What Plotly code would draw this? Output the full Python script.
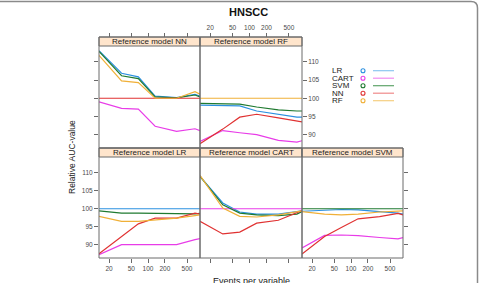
import math
import plotly.graph_objects as go

W, H = 480, 283

# ---------------- data ----------------
epv = [13.2, 33.5, 67, 134, 325, 695, 855]
x_ticks = [20, 50, 100, 200, 500]
y_ticks = [90, 95, 100, 105, 110]
series = ["LR", "CART", "SVM", "NN", "RF"]
panel_titles = ["Reference model NN", "Reference model RF", "Reference model LR",
                "Reference model CART", "Reference model SVM"]

nn_LR = [113.1, 106.9, 105.9, 100.6, 100.2, 101.1, 100.6]
nn_CART = [99.0, 97.2, 97.0, 92.3, 90.9, 91.6, 91.1]
nn_SVM = [112.9, 106.2, 105.4, 100.4, 100.1, 100.9, 100.4]
nn_NN = [100, 100, 100, 100, 100, 100, 100]
nn_RF = [111.8, 104.8, 104.3, 100.0, 100.0, 101.8, 101.1]

rf_LR = [98.1, 98.1, 97.9, 96.5, 95.6, 94.8, 94.8]
rf_CART = [88.1, 91.1, 90.5, 90.0, 88.4, 87.9, 88.3]
rf_SVM = [98.6, 98.6, 98.4, 97.6, 96.8, 96.5, 96.5]
rf_NN = [87.5, 91.5, 94.8, 95.6, 94.6, 93.9, 93.5]
rf_RF = [100, 100, 100, 100, 100, 100, 100]

lr_LR = [100, 100, 100, 100, 100, 100, 100]
lr_CART = [87.2, 90.0, 90.0, 90.0, 90.0, 91.4, 91.7]
lr_SVM = [99.4, 98.8, 98.8, 98.7, 98.6, 98.6, 98.7]
lr_NN = [87.5, 92.3, 95.8, 97.4, 97.4, 98.8, 98.5]
lr_RF = [97.9, 96.5, 96.5, 96.9, 97.4, 98.1, 98.3]

cart_LR = [109.0, 101.6, 99.1, 98.5, 98.5, 99.1, 99.4]
cart_CART = [100, 100, 100, 100, 100, 100, 100]
cart_SVM = [109.0, 101.1, 98.8, 98.3, 98.1, 98.5, 99.2]
cart_NN = [96.5, 93.0, 93.5, 96.0, 96.8, 98.8, 99.5]
cart_RF = [109.3, 100.2, 97.9, 97.7, 98.3, 99.1, 99.4]

svm_LR = [99.3, 99.7, 99.8, 99.7, 99.3, 98.8, 98.5]
svm_CART = [89.1, 92.6, 92.7, 92.5, 92.0, 91.6, 92.0]
svm_SVM = [100, 100, 100, 100, 100, 100, 100]
svm_NN = [87.4, 92.3, 94.8, 97.2, 97.8, 98.7, 98.3]
svm_RF = [99.2, 98.5, 98.3, 98.5, 99.1, 99.4, 99.4]

panel_data = [
    [nn_LR, nn_CART, nn_SVM, nn_NN, nn_RF],
    [rf_LR, rf_CART, rf_SVM, rf_NN, rf_RF],
    [lr_LR, lr_CART, lr_SVM, lr_NN, lr_RF],
    [cart_LR, cart_CART, cart_SVM, cart_NN, cart_RF],
    [svm_LR, svm_CART, svm_SVM, svm_NN, svm_RF],
]

# ---------------- style ----------------
colors = ["#2b90e0", "#e83ce8", "#1f7a30", "#e03232", "#f0b038"]
legend_line_colors = ["#8cc6f0", "#f08cf0", "#5fa46a", "#ef8a8a", "#f5cf80"]
FONT = "Liberation Sans, Arial, Helvetica, sans-serif"
STRIP = "#ffe5cc"
BORDER = "#6a6a6a"


def fx(px):
    return px / W


def fy(py):
    return 1 - py / H


cols = [(99, 200), (200, 302), (302, 403)]
rows = {"top": (46, 148, 37), "bot": (157, 258, 148)}  # plot top, plot bottom, strip top
panels = [
    ("top", 0), ("top", 1), ("bot", 0), ("bot", 1), ("bot", 2)
]
xrange_log = [math.log10(13.2), math.log10(855)]
yrange = [86.3, 114.4]

fig = go.Figure()
layout = dict(
    width=W, height=H, margin=dict(l=0, r=0, t=0, b=0),
    paper_bgcolor="white", plot_bgcolor="white", showlegend=False,
    font=dict(family=FONT, color="#222"),
)
shapes = []
annotations = []

tickfont = dict(size=6.5, color="#4a4a4a", family=FONT)

for i, ((row, col), data) in enumerate(zip(panels, panel_data)):
    n = i + 1
    xa = "xaxis" if n == 1 else f"xaxis{n}"
    ya = "yaxis" if n == 1 else f"yaxis{n}"
    xref = "x" if n == 1 else f"x{n}"
    yref = "y" if n == 1 else f"y{n}"
    x0, x1 = cols[col]
    ptop, pbot, stop = rows[row]

    for s, vals in enumerate(data):
        fig.add_trace(go.Scatter(
            x=epv, y=vals, mode="lines", xaxis=xref, yaxis=yref,
            line=dict(color=colors[s], width=1.2), name=series[s],
            hoverinfo="skip",
        ))

    xa_d = dict(type="log", range=xrange_log, domain=[fx(x0), fx(x1)],
                showgrid=False, zeroline=False, showline=False,
                tickvals=x_ticks, ticktext=[str(t) for t in x_ticks],
                ticks="outside", ticklen=4, tickcolor=BORDER, tickwidth=1,
                tickfont=tickfont)
    if row == "top":
        xa_d.update(anchor="free", position=fy(stop), side="top",
                    showticklabels=(col == 1))
    else:
        xa_d.update(anchor=yref, side="bottom",
                    showticklabels=(col != 1))
    layout[xa] = xa_d

    ya_d = dict(range=yrange, domain=[fy(pbot), fy(ptop)], anchor=xref,
                showgrid=False, zeroline=False, showline=False,
                tickvals=y_ticks, ticks="outside", ticklen=4, tickcolor=BORDER,
                tickwidth=1, tickfont=tickfont)
    if col == 0:
        ya_d.update(side="left", showticklabels=(row == "bot"))
    elif row == "top" and col == 1:
        ya_d.update(side="right", showticklabels=True)
    elif row == "bot" and col == 2:
        ya_d.update(side="right", showticklabels=False)
    else:
        ya_d.update(ticks="", showticklabels=False)
    layout[ya] = ya_d

    # strip
    shapes.append(dict(type="rect", xref="paper", yref="paper",
                       x0=fx(x0), x1=fx(x1), y0=fy(ptop), y1=fy(stop),
                       fillcolor=STRIP, line=dict(color=BORDER, width=1), layer="below"))
    annotations.append(dict(text=panel_titles[i], xref="paper", yref="paper",
                            x=fx((x0 + x1) / 2), y=fy((ptop + stop) / 2),
                            xanchor="center", yanchor="middle", showarrow=False,
                            font=dict(size=8, color="#222", family=FONT)))
    # panel border
    shapes.append(dict(type="rect", xref="paper", yref="paper",
                       x0=fx(x0), x1=fx(x1), y0=fy(pbot), y1=fy(stop),
                       line=dict(color=BORDER, width=1), fillcolor="rgba(0,0,0,0)",
                       layer="above"))

# title & axis labels
annotations.append(dict(text="<b>HNSCC</b>", xref="paper", yref="paper",
                        x=fx(248), y=fy(12), xanchor="center", yanchor="middle",
                        showarrow=False, font=dict(size=11, color="#111", family=FONT)))
annotations.append(dict(text="Relative AUC-value", xref="paper", yref="paper",
                        x=fx(72), y=fy(157), xanchor="center", yanchor="middle",
                        textangle=-90, showarrow=False,
                        font=dict(size=8.5, color="#222", family=FONT)))
annotations.append(dict(text="Events per variable", xref="paper", yref="paper",
                        x=fx(251), y=fy(274), xanchor="center", yanchor="top",
                        showarrow=False, font=dict(size=9, color="#222", family=FONT)))

# legend (key)
for s, name in enumerate(series):
    py = 70.7 + s * 7.5
    annotations.append(dict(text=name, xref="paper", yref="paper",
                            x=fx(331), y=fy(py), xanchor="left", yanchor="middle",
                            showarrow=False, borderpad=0,
                            font=dict(size=8, color="#222", family=FONT)))
    shapes.append(dict(type="circle", xref="paper", yref="paper",
                       x0=fx(361), x1=fx(365), y0=fy(py + 2), y1=fy(py - 2),
                       line=dict(color=colors[s], width=1.1)))
    shapes.append(dict(type="line", xref="paper", yref="paper",
                       x0=fx(373), x1=fx(394), y0=fy(py), y1=fy(py),
                       line=dict(color=legend_line_colors[s], width=1.2)))

# outer rounded frame
shapes.append(dict(type="path", xref="paper", yref="paper",
                   path=f"M 0,{fy(1.5)} L {fx(471)},{fy(1.5)} Q {fx(477.5)},{fy(1.5)} {fx(477.5)},{fy(8)} L {fx(477.5)},{fy(283)}",
                   line=dict(color="#8a8a8a", width=1.5)))

layout["shapes"] = shapes
layout["annotations"] = annotations
fig.update_layout(**layout)
fig.write_html("out.html")
